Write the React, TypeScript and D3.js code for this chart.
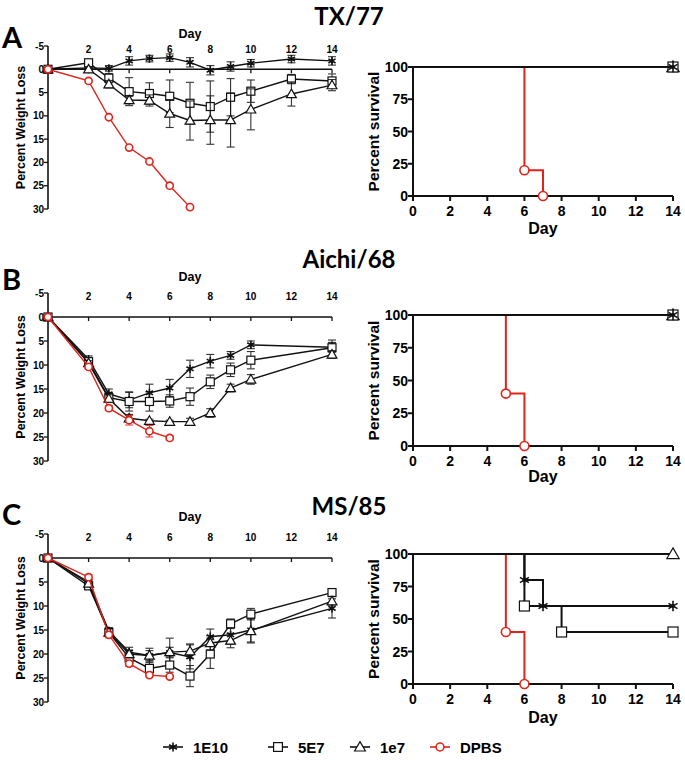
import React from "react";
import * as d3 from "d3";

// ---- weight loss data (percent) ----
const daysA = [0, 2, 3, 4, 5, 6, 7, 8, 9, 10, 12, 14];
const daysBC = [0, 2, 3, 4, 5, 6, 7, 8, 9, 10, 14];
const dpbsDaysA = [0, 2, 3, 4, 5, 6, 7];
const dpbsDaysBC = [0, 2, 3, 4, 5, 6];

const tx1E10 = [0, -0.3, -0.2, -1.8, -2.3, -2.5, -1.5, 0.2, -0.6, -1.3, -2.2, -1.8];
const tx1E10Sd = [0, 0.3, 0.6, 0.9, 0.7, 0.8, 1.0, 1.0, 1.0, 0.8, 0.8, 0.9];
const tx5E7 = [0, -1.4, 1.9, 4.8, 5.2, 5.8, 7.3, 8.0, 6.0, 4.7, 2.1, 2.5];
const tx5E7Sd = [0, 0.3, 1.0, 3.0, 2.3, 3.5, 4.5, 5.5, 4.0, 2.4, 1.0, 1.5];
const tx1e7 = [0, 0, 3.2, 6.6, 6.7, 9.5, 11.0, 10.9, 10.9, 8.6, 5.3, 3.4];
const tx1e7Sd = [0, 0.3, 0.8, 0.8, 1.2, 3.0, 4.2, 5.2, 5.8, 4.4, 2.6, 1.2];
const txDPBS = [0, 2.5, 10.3, 16.8, 19.8, 25.0, 29.6];
const txDPBSSd = [0, 0, 0, 0, 0, 0, 0];

const ai1E10 = [0, 8.8, 16.0, 17.3, 15.8, 14.8, 10.8, 9.2, 8.0, 5.8, 6.3];
const ai1E10Sd = [0, 0.7, 1.0, 1.6, 1.8, 1.8, 1.8, 1.4, 0.8, 0.8, 1.0];
const ai5E7 = [0, 9.3, 16.8, 17.6, 17.6, 17.5, 16.6, 13.5, 11.0, 9.0, 6.4];
const ai5E7Sd = [0, 0.6, 1.0, 2.0, 2.0, 1.3, 1.8, 1.4, 1.4, 1.8, 1.6];
const ai1e7 = [0, 9.6, 17.0, 21.1, 21.6, 21.8, 21.8, 20.0, 14.8, 13.0, 7.8];
const ai1e7Sd = [0, 0.5, 0.8, 0.8, 0.3, 0.3, 0.7, 0.9, 0.8, 1.0, 0.8];
const aiDPBS = [0, 10.4, 19.0, 21.5, 23.8, 25.2];
const aiDPBSSd = [0, 0.4, 0.5, 1.0, 1.2, 0.4];

const ms1E10 = [0, 5.0, 15.2, 19.6, 20.3, 19.7, 20.6, 16.4, 16.0, 15.0, 10.5];
const ms1E10Sd = [0, 0.5, 0.7, 1.0, 1.5, 3.0, 2.5, 1.6, 2.0, 2.5, 2.0];
const ms5E7 = [0, 5.8, 15.5, 20.8, 23.0, 22.3, 24.6, 20.0, 13.7, 11.7, 7.2];
const ms5E7Sd = [0, 0.5, 0.7, 1.2, 1.5, 1.5, 2.2, 3.0, 1.0, 1.2, 0.5];
const ms1e7 = [0, 5.3, 15.5, 20.0, 20.3, 19.6, 19.4, 17.7, 17.2, 15.2, 9.0];
const ms1e7Sd = [0, 0.5, 0.7, 0.8, 1.0, 1.0, 1.5, 1.5, 1.5, 2.5, 1.0];
const msDPBS = [0, 4.0, 16.0, 22.0, 24.4, 24.7];
const msDPBSSd = [0, 0.5, 0.6, 0.6, 0.4, 0.3];

// ---- survival (Kaplan-Meier steps) ----
const survFullDays = [0, 14];
const survFullPct = [100, 100];
const txSurvDPBSDays = [0, 6, 7];
const txSurvDPBSPct = [100, 20, 0];
const aiSurvDPBSDays = [0, 5, 6];
const aiSurvDPBSPct = [100, 40, 0];
const msSurv1E10Days = [0, 6, 7, 14];
const msSurv1E10Pct = [100, 80, 60, 60];
const msSurv5E7Days = [0, 6, 8, 14];
const msSurv5E7Pct = [100, 60, 40, 40];
const msSurvDPBSDays = [0, 5, 6];
const msSurvDPBSPct = [100, 40, 0];

const weightTicks = [-5, 0, 5, 10, 15, 20, 25, 30];
const weightDayTicks = [2, 4, 6, 8, 10, 12, 14];
const survTicks = [0, 25, 50, 75, 100];
const survDayTicks = [0, 2, 4, 6, 8, 10, 12, 14];
const legendLabels = ["1E10", "5E7", "1e7", "DPBS"];

const RED = "#e2231a";
const BLK = "#111";
const FONT = "'Liberation Sans', Arial, sans-serif";
const TFONT = "Lato, 'Open Sans', sans-serif";

type Kind = "star" | "square" | "triangle" | "circle";
const kinds: Kind[] = ["star", "square", "triangle", "circle"];

function Marker({ kind, x, y, s = 1 }: { kind: Kind; x: number; y: number; s?: number }) {
  if (kind === "circle")
    return <circle cx={x} cy={y} r={3.6 * s} fill="#fff" stroke={RED} strokeWidth={1.6} />;
  if (kind === "square") {
    const h = 4 * s;
    return <rect x={x - h} y={y - h} width={2 * h} height={2 * h} fill="#fff" stroke={BLK} strokeWidth={1.2} />;
  }
  if (kind === "triangle") {
    const p = d3.symbol(d3.symbolTriangle, 42 * s * s)();
    return <path d={p || ""} transform={`translate(${x},${y + 0.8 * s})`} fill="#fff" stroke={BLK} strokeWidth={1.2} />;
  }
  const p = d3.symbol(d3.symbolAsterisk, 48 * s * s)();
  return (
    <g transform={`translate(${x},${y})`}>
      <path d={p || ""} fill="none" stroke={BLK} strokeWidth={1.6} />
      <circle r={1.6 * s} fill={BLK} />
    </g>
  );
}

type WSeries = { days: number[]; vals: number[]; sd: number[]; kind: Kind };

function WeightPanel(props: {
  top: number; bottom: number; series: WSeries[]; dayY: number;
  letter: string; letterY: number; title: string; titleY: number;
}) {
  const { top, bottom, series } = props;
  const x = d3.scaleLinear().domain([0, 14]).range([48, 332]);
  const y = d3.scaleLinear().domain([-5, 30]).range([top, bottom]);
  const line = d3.line<[number, number]>().x((d) => x(d[0])).y((d) => y(d[1]));
  return (
    <g>
      <text x={2} y={props.letterY} fontFamily={TFONT} fontWeight={700} fontSize={29}>{props.letter}</text>
      <text x={349} y={props.titleY} textAnchor="middle" fontFamily={TFONT} fontWeight={700} fontSize={24}>{props.title}</text>
      <text x={x(7)} y={props.dayY} textAnchor="middle" fontFamily={FONT} fontWeight={700} fontSize={12.5}>Day</text>
      <text transform={`translate(25,${(top + bottom) / 2}) rotate(-90)`} textAnchor="middle"
        fontFamily={FONT} fontWeight={700} fontSize={12.5}>Percent Weight Loss</text>
      {/* y axis */}
      <line x1={x(0)} x2={x(0)} y1={y(-5)} y2={y(30)} stroke={BLK} strokeWidth={1.6} />
      {weightTicks.map((t) => (
        <g key={t}>
          <line x1={x(0) - 4} x2={x(0)} y1={y(t)} y2={y(t)} stroke={BLK} strokeWidth={1.3} />
          <text x={x(0) - 4} y={y(t) + 3.5} textAnchor="end" fontFamily={FONT} fontWeight={700} fontSize={10}>{t}</text>
        </g>
      ))}
      {/* x axis at 0, labels on top */}
      <line x1={x(0)} x2={x(14)} y1={y(0)} y2={y(0)} stroke={BLK} strokeWidth={1.4} />
      {weightDayTicks.map((t) => (
        <g key={t}>
          <line x1={x(t)} x2={x(t)} y1={y(0)} y2={y(0) + 4} stroke={BLK} strokeWidth={1.3} />
          <text x={x(t)} y={top + 7} textAnchor="middle" fontFamily={FONT} fontWeight={700} fontSize={10}>{t}</text>
        </g>
      ))}
      {series.map((s, si) => {
        const col = s.kind === "circle" ? RED : BLK;
        const pts = s.days.map((d, i) => [d, s.vals[i]] as [number, number]);
        return (
          <g key={si}>
            {s.days.map((d, i) =>
              s.sd[i] > 0 ? (
                <g key={i} stroke={col} strokeWidth={1.1} opacity={0.85}>
                  <line x1={x(d)} x2={x(d)} y1={y(s.vals[i] - s.sd[i])} y2={y(s.vals[i] + s.sd[i])} />
                  <line x1={x(d) - 4} x2={x(d) + 4} y1={y(s.vals[i] - s.sd[i])} y2={y(s.vals[i] - s.sd[i])} />
                  <line x1={x(d) - 4} x2={x(d) + 4} y1={y(s.vals[i] + s.sd[i])} y2={y(s.vals[i] + s.sd[i])} />
                </g>
              ) : null
            )}
            <path d={line(pts) || ""} fill="none" stroke={col} strokeWidth={1.4} />
            {pts.map((p, i) => (
              <Marker key={i} kind={s.kind} x={x(p[0])} y={y(p[1])} />
            ))}
          </g>
        );
      })}
    </g>
  );
}

type SSeries = { days: number[]; pct: number[]; kind: Kind };

function SurvivalPanel({ y100, y0, series, dayY }: { y100: number; y0: number; series: SSeries[]; dayY: number }) {
  const x = d3.scaleLinear().domain([0, 14]).range([413, 673]);
  const y = d3.scaleLinear().domain([0, 100]).range([y0, y100]);
  const step = d3.line<[number, number]>().x((d) => x(d[0])).y((d) => y(d[1])).curve(d3.curveStepAfter);
  return (
    <g>
      <text transform={`translate(379,${(y0 + y100) / 2}) rotate(-90)`} textAnchor="middle"
        fontFamily={FONT} fontWeight={700} fontSize={15.5}>Percent survival</text>
      <text x={x(7)} y={dayY} textAnchor="middle" fontFamily={FONT} fontWeight={700} fontSize={16}>Day</text>
      <line x1={x(0)} x2={x(0)} y1={y(100)} y2={y(0)} stroke={BLK} strokeWidth={2} />
      <line x1={x(0)} x2={x(14)} y1={y(0)} y2={y(0)} stroke={BLK} strokeWidth={2} />
      {survTicks.map((t) => (
        <g key={t}>
          <line x1={x(0) - 5} x2={x(0)} y1={y(t)} y2={y(t)} stroke={BLK} strokeWidth={2} />
          <text x={x(0) - 5} y={y(t) + 5} textAnchor="end" fontFamily={FONT} fontWeight={700} fontSize={14}>{t}</text>
        </g>
      ))}
      {survDayTicks.map((t) => (
        <g key={t}>
          <line x1={x(t)} x2={x(t)} y1={y(0)} y2={y(0) + 5} stroke={BLK} strokeWidth={2} />
          <text x={x(t)} y={y(0) + 20} textAnchor="middle" fontFamily={FONT} fontWeight={700} fontSize={14}>{t}</text>
        </g>
      ))}
      {series.map((s, si) => {
        const col = s.kind === "circle" ? RED : BLK;
        const pts = s.days.map((d, i) => [d, s.pct[i]] as [number, number]);
        return (
          <g key={si}>
            <path d={step(pts) || ""} fill="none" stroke={col} strokeWidth={2} />
            {pts.slice(1).map((p, i) => (
              <Marker key={i} kind={s.kind} x={x(p[0])} y={y(p[1])} s={1.25} />
            ))}
          </g>
        );
      })}
    </g>
  );
}

export default function App() {
  const wA: WSeries[] = [
    { days: daysA, vals: tx1E10, sd: tx1E10Sd, kind: "star" },
    { days: daysA, vals: tx5E7, sd: tx5E7Sd, kind: "square" },
    { days: daysA, vals: tx1e7, sd: tx1e7Sd, kind: "triangle" },
    { days: dpbsDaysA, vals: txDPBS, sd: txDPBSSd, kind: "circle" },
  ];
  const wB: WSeries[] = [
    { days: daysBC, vals: ai1E10, sd: ai1E10Sd, kind: "star" },
    { days: daysBC, vals: ai5E7, sd: ai5E7Sd, kind: "square" },
    { days: daysBC, vals: ai1e7, sd: ai1e7Sd, kind: "triangle" },
    { days: dpbsDaysBC, vals: aiDPBS, sd: aiDPBSSd, kind: "circle" },
  ];
  const wC: WSeries[] = [
    { days: daysBC, vals: ms1E10, sd: ms1E10Sd, kind: "star" },
    { days: daysBC, vals: ms5E7, sd: ms5E7Sd, kind: "square" },
    { days: daysBC, vals: ms1e7, sd: ms1e7Sd, kind: "triangle" },
    { days: dpbsDaysBC, vals: msDPBS, sd: msDPBSSd, kind: "circle" },
  ];
  const sA: SSeries[] = [
    { days: txSurvDPBSDays, pct: txSurvDPBSPct, kind: "circle" },
    { days: survFullDays, pct: survFullPct, kind: "triangle" },
    { days: survFullDays, pct: survFullPct, kind: "square" },
    { days: survFullDays, pct: survFullPct, kind: "star" },
  ];
  const sB: SSeries[] = [
    { days: aiSurvDPBSDays, pct: aiSurvDPBSPct, kind: "circle" },
    { days: survFullDays, pct: survFullPct, kind: "triangle" },
    { days: survFullDays, pct: survFullPct, kind: "square" },
    { days: survFullDays, pct: survFullPct, kind: "star" },
  ];
  const sC: SSeries[] = [
    { days: msSurvDPBSDays, pct: msSurvDPBSPct, kind: "circle" },
    { days: survFullDays, pct: survFullPct, kind: "triangle" },
    { days: msSurv5E7Days, pct: msSurv5E7Pct, kind: "square" },
    { days: msSurv1E10Days, pct: msSurv1E10Pct, kind: "star" },
  ];
  const legendX = [163, 268, 350, 430];
  return (
    <svg width={685} height={771} style={{ position: "absolute", left: 0, top: 0, background: "#fff" }}>
      <rect width={685} height={771} fill="#fff" />
      <WeightPanel top={46} bottom={209} series={wA} dayY={38} letter="A" letterY={48} title="TX/77" titleY={25} />
      <WeightPanel top={293} bottom={461} series={wB} dayY={281} letter="B" letterY={290} title="Aichi/68" titleY={268} />
      <WeightPanel top={534} bottom={702} series={wC} dayY={521} letter="C" letterY={525} title="MS/85" titleY={515} />
      <SurvivalPanel y100={67} y0={196} series={sA} dayY={234} />
      <SurvivalPanel y100={315} y0={446} series={sB} dayY={482} />
      <SurvivalPanel y100={554} y0={684} series={sC} dayY={723} />
      {legendLabels.map((l, i) => (
        <g key={l}>
          <line x1={legendX[i]} x2={legendX[i] + 20} y1={747} y2={747} stroke={kinds[i] === "circle" ? RED : BLK} strokeWidth={1.6} />
          <Marker kind={kinds[i]} x={legendX[i] + 10} y={747} s={1.1} />
          <text x={legendX[i] + 30} y={752.5} fontFamily={FONT} fontWeight={700} fontSize={15}>{l}</text>
        </g>
      ))}
    </svg>
  );
}
